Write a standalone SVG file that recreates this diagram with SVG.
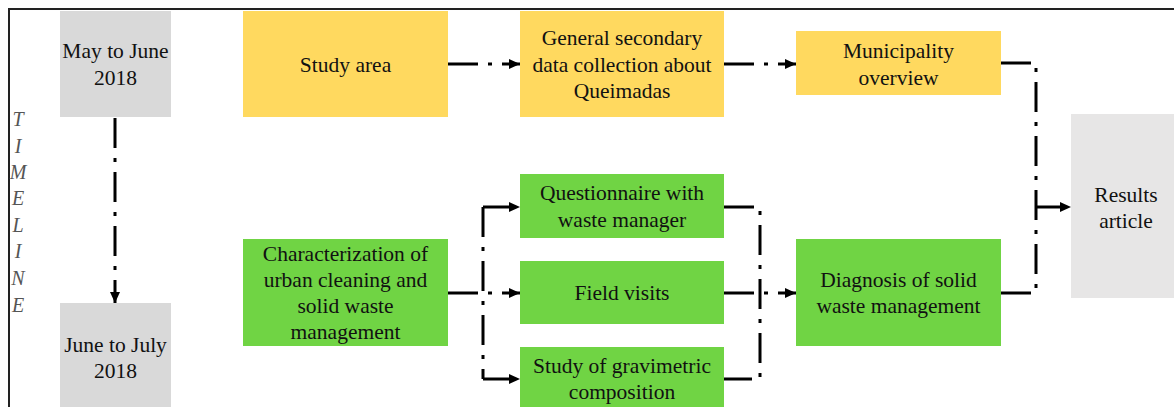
<svg xmlns="http://www.w3.org/2000/svg" width="1174" height="407" viewBox="0 0 1174 407">
<style>
text{font-family:"Liberation Serif","Times New Roman",serif;font-size:21.5px;fill:#111;text-anchor:middle}
.tl{font-style:italic;font-size:20px;fill:#555}
.yel{fill:#FFD95F}
.grn{fill:#70D444}
.gry{fill:#D9D9D9}
.res{fill:#E7E6E6}
.c{fill:none;stroke:#000;stroke-width:3;stroke-dasharray:30 10 4 10}
.a{marker-end:url(#ah)}
</style>
<defs>
<marker id="ah" markerUnits="userSpaceOnUse" markerWidth="12" markerHeight="10" refX="11" refY="5" orient="auto">
<path d="M0,0 L11,5 L0,10 Z" fill="#000"/>
</marker>
</defs>
<g id="frame" fill="none" stroke="#222" stroke-width="2">
<path d="M9,407 V9 H1174"/>
</g>
<g id="timeline-label">
<text class="tl" x="18" y="126">T</text>
<text class="tl" x="18" y="153">I</text>
<text class="tl" x="18" y="179">M</text>
<text class="tl" x="18" y="205">E</text>
<text class="tl" x="18" y="232">L</text>
<text class="tl" x="18" y="258">I</text>
<text class="tl" x="18" y="285">N</text>
<text class="tl" x="18" y="312">E</text>
</g>
<g id="connectors">
<path class="c a" d="M115,118 V303"/>
<path class="c a" d="M448,64 H520"/>
<path class="c a" d="M724,64 H796"/>
<path class="c" d="M483,207 V379"/>
<path class="c a" d="M483,207 H520"/>
<path class="c a" d="M448,293 H520"/>
<path class="c a" d="M483,379 H520"/>
<path class="c" d="M724,207 H760 V379 H724"/>
<path class="c a" d="M724,293 H796"/>
<path class="c" d="M1001,63 H1036 V293 H1001"/>
<path class="c a" d="M1036,207 H1071"/>
</g>
<g id="may-june">
<rect class="gry" x="60" y="11" width="111" height="106"/>
<text x="115.5" y="58">May to June</text>
<text x="115.5" y="85">2018</text>
</g>
<g id="june-july">
<rect class="gry" x="60" y="303" width="111" height="110"/>
<text x="115.5" y="352">June to July</text>
<text x="115.5" y="378">2018</text>
</g>
<g id="study-area">
<rect class="yel" x="243" y="11" width="205" height="106"/>
<text x="345.5" y="72">Study area</text>
</g>
<g id="general-secondary">
<rect class="yel" x="520" y="11" width="204" height="106"/>
<text x="622" y="45">General secondary</text>
<text x="622" y="72">data collection about</text>
<text x="622" y="98">Queimadas</text>
</g>
<g id="municipality">
<rect class="yel" x="796" y="31" width="205" height="64"/>
<text x="898.5" y="58">Municipality</text>
<text x="898.5" y="85">overview</text>
</g>
<g id="characterization">
<rect class="grn" x="243" y="239" width="205" height="107"/>
<text x="345.5" y="261">Characterization of</text>
<text x="345.5" y="287">urban cleaning and</text>
<text x="345.5" y="313">solid waste</text>
<text x="345.5" y="339">management</text>
</g>
<g id="questionnaire">
<rect class="grn" x="520" y="174" width="204" height="64"/>
<text x="622" y="200">Questionnaire with</text>
<text x="622" y="227">waste manager</text>
</g>
<g id="field-visits">
<rect class="grn" x="520" y="261" width="204" height="63"/>
<text x="622" y="300">Field visits</text>
</g>
<g id="gravimetric">
<rect class="grn" x="520" y="347" width="204" height="66"/>
<text x="622" y="373">Study of gravimetric</text>
<text x="622" y="399">composition</text>
</g>
<g id="diagnosis">
<rect class="grn" x="796" y="239" width="205" height="107"/>
<text x="898.5" y="287">Diagnosis of solid</text>
<text x="898.5" y="313">waste management</text>
</g>
<g id="results">
<rect class="res" x="1071" y="114" width="111" height="184"/>
<text x="1126" y="202">Results</text>
<text x="1126" y="228">article</text>
</g>
</svg>
